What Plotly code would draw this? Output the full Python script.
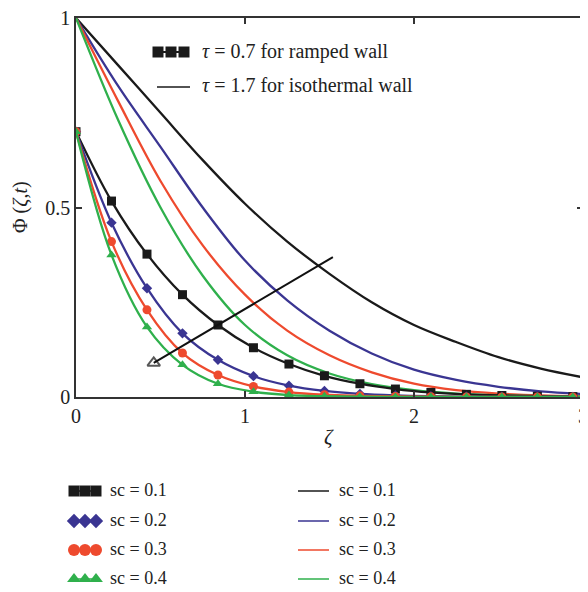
import plotly.graph_objects as go

# ---------------- data ----------------
zeta_ramp = [0, 0.21, 0.42, 0.63, 0.84, 1.05, 1.26, 1.47, 1.68, 1.89, 2.10, 2.31, 2.52, 2.73, 2.94]
ramp_sc01 = [0.70, 0.517, 0.377, 0.270, 0.190, 0.130, 0.087, 0.056, 0.035, 0.021, 0.012, 0.007, 0.004, 0.002, 0.001]
ramp_sc02 = [0.70, 0.460, 0.287, 0.168, 0.098, 0.055, 0.030, 0.016, 0.008, 0.004, 0.002, 0.001, 0.0005, 0.0002, 0.0001]
ramp_sc03 = [0.70, 0.410, 0.230, 0.116, 0.058, 0.028, 0.013, 0.006, 0.003, 0.0013, 0.0006, 0.0003, 0.0001, 0.0, 0.0]
ramp_sc04 = [0.70, 0.375, 0.185, 0.085, 0.035, 0.014, 0.005, 0.002, 0.0008, 0.0003, 0.0001, 0.0, 0.0, 0.0, 0.0]

zeta_iso = [0, 0.25, 0.5, 0.75, 1.0, 1.25, 1.5, 1.75, 2.0, 2.25, 2.5, 2.75, 3.0]
iso_sc01 = [1.0, 0.875, 0.75, 0.625, 0.51, 0.41, 0.325, 0.25, 0.19, 0.145, 0.105, 0.075, 0.052]
iso_sc02 = [1.0, 0.82, 0.66, 0.50, 0.36, 0.255, 0.175, 0.115, 0.072, 0.045, 0.027, 0.015, 0.008]
iso_sc03 = [1.0, 0.78, 0.57, 0.40, 0.27, 0.175, 0.11, 0.065, 0.035, 0.018, 0.009, 0.004, 0.002]
iso_sc04 = [1.0, 0.73, 0.50, 0.32, 0.19, 0.11, 0.062, 0.034, 0.018, 0.009, 0.0045, 0.002, 0.001]

# trend arrow (annotation line) endpoints
arrow_zeta = [0.46, 1.52]
arrow_phi = [0.09, 0.369]

sc_labels = ["sc = 0.1", "sc = 0.2", "sc = 0.3", "sc = 0.4"]
x_ticks = [0, 1, 2, 3]
y_ticks = [0, 0.5, 1]
y_ticktext = ["0", "0.5", "1"]

# ---------------- styles ----------------
W, H = 588, 592
OX, OY = 8, 8          # page (body) offset of the plot div
FONT = "Liberation Serif"
TXT = "#222"
colors = ["#1a1a1a", "#3a3592", "#ee4a2e", "#2fb04c"]
symbols = ["square", "diamond", "circle", "triangle-up"]
msizes = [9, 8, 9, 9]

fig = go.Figure()

ramps = [ramp_sc01, ramp_sc02, ramp_sc03, ramp_sc04]
isos = [iso_sc01, iso_sc02, iso_sc03, iso_sc04]

for i in range(4):
    fig.add_trace(go.Scatter(
        x=zeta_iso, y=isos[i], mode="lines",
        line=dict(color=colors[i], width=2.3, shape="spline"),
        showlegend=False, xaxis="x", yaxis="y"))
for i in range(4):
    fig.add_trace(go.Scatter(
        x=zeta_ramp, y=ramps[i], mode="lines+markers",
        line=dict(color=colors[i], width=2.3, shape="spline"),
        marker=dict(symbol=symbols[i], size=msizes[i], color=colors[i]),
        showlegend=False, xaxis="x", yaxis="y"))

fig.add_trace(go.Scatter(
    x=arrow_zeta, y=arrow_phi, mode="lines+markers",
    line=dict(color="#111", width=2),
    marker=dict(symbol=["triangle-up-open", "circle"], size=[11, 0],
                color="#111", line=dict(width=2, color="#111")),
    showlegend=False, xaxis="x", yaxis="y"))

# ---------------- legend drawn on a pixel overlay ----------------
def px_trace(xs, ys, mode, color, symbol=None, size=10, width=2):
    d = dict(x=xs, y=ys, mode=mode, showlegend=False, xaxis="x2", yaxis="y2",
             line=dict(color=color, width=width), hoverinfo="skip")
    if symbol:
        d["marker"] = dict(symbol=symbol, size=size, color=color)
    fig.add_trace(go.Scatter(**d))

annots = []
# inner legend
px_trace([158, 171, 184], [52, 52, 52], "lines+markers", "#1a1a1a", "square", 11)
px_trace([157, 190], [87, 87], "lines", "#1a1a1a", width=1.3)
annots.append(dict(x=200, y=51, xref="x2", yref="y2", text="<i>τ</i> = 0.7 for ramped wall",
                   showarrow=False, xanchor="left", yanchor="middle",
                   font=dict(family=FONT, size=20, color=TXT)))
annots.append(dict(x=200, y=85, xref="x2", yref="y2", text="<i>τ</i> = 1.7 for isothermal wall",
                   showarrow=False, xanchor="left", yanchor="middle",
                   font=dict(family=FONT, size=20, color=TXT)))

rows = [491, 521, 550, 579]
lsizes = [11, 11, 12, 12]
for i in range(4):
    px_trace([74, 85, 96], [rows[i]] * 3, "lines+markers", colors[i], symbols[i], lsizes[i], width=1.5)
    px_trace([298, 329], [rows[i]] * 2, "lines", colors[i], width=1.5)
    annots.append(dict(x=108, y=rows[i] - 1, xref="x2", yref="y2", text=sc_labels[i],
                       showarrow=False, xanchor="left", yanchor="middle",
                       font=dict(family=FONT, size=18, color=TXT)))
    annots.append(dict(x=337, y=rows[i] - 1, xref="x2", yref="y2", text=sc_labels[i],
                       showarrow=False, xanchor="left", yanchor="middle",
                       font=dict(family=FONT, size=18, color=TXT)))

# axis titles
annots.append(dict(x=329, y=437, xref="x2", yref="y2", text="<i>ζ</i>", showarrow=False,
                   font=dict(family=FONT, size=21, color=TXT)))
annots.append(dict(x=20, y=207, xref="x2", yref="y2", text="Φ (<i>ζ</i>,<i>t</i>)", showarrow=False,
                   textangle=-90, font=dict(family=FONT, size=20, color=TXT)))

# plot-area edges in page pixels
X0, X1, Y0, Y1 = 76, 583, 18, 397
axis_common = dict(showline=True, linecolor="#333", linewidth=1.5, mirror="ticks",
                   ticks="inside", ticklen=6, tickwidth=1.5, tickcolor="#333",
                   showgrid=False, zeroline=False, automargin=False,
                   ticklabeloverflow="allow",
                   tickfont=dict(family=FONT, size=20, color=TXT))

fig.update_layout(
    width=W, height=H, autosize=False,
    margin=dict(l=0, r=0, t=0, b=0, pad=0, autoexpand=False),
    paper_bgcolor="white", plot_bgcolor="rgba(0,0,0,0)",
    xaxis=dict(domain=[(X0 - OX) / W, (X1 - OX) / W], range=[0, 3], tickvals=x_ticks,
               anchor="y", **axis_common),
    yaxis=dict(domain=[1 - (Y1 - OY) / H, 1 - (Y0 - OY) / H], range=[0, 1], tickvals=y_ticks,
               ticktext=y_ticktext, anchor="x", **axis_common),
    xaxis2=dict(domain=[0, 1], range=[OX, W + OX], visible=False, anchor="y2", automargin=False),
    yaxis2=dict(domain=[0, 1], range=[H + OY, OY], visible=False, anchor="x2", automargin=False),
    annotations=annots,
)

fig.write_html("out.html")
